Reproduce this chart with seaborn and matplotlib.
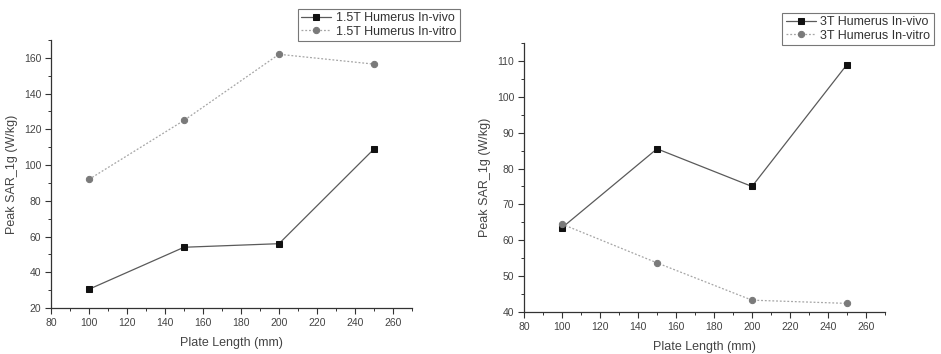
import matplotlib
matplotlib.use("Agg")
import matplotlib.pyplot as plt
import seaborn as sns
import pandas as pd
from matplotlib.ticker import MultipleLocator

sns.set_theme(style="white")
plt.rcParams['font.family'] = ['Liberation Sans', 'DejaVu Sans']

plate_length = [100, 150, 200, 250]
t15_invivo = [30.5, 54.0, 56.0, 109.0]
t15_invitro = [92.0, 125.0, 162.0, 156.5]
t3_invivo = [63.5, 85.5, 75.0, 109.0]
t3_invitro = [64.5, 53.7, 43.3, 42.4]

labels_left = ["1.5T Humerus In-vivo", "1.5T Humerus In-vitro"]
labels_right = ["3T Humerus In-vivo", "3T Humerus In-vitro"]

fig = plt.figure(figsize=(9.41, 3.54), dpi=100)
W, H = 941, 354
ax1 = fig.add_axes([51 / W, 1 - 308 / H, (412 - 51) / W, (308 - 40) / H])
ax2 = fig.add_axes([524 / W, 1 - 312 / H, (885 - 524) / W, (312 - 43) / H])


def draw(ax, vivo, vitro, labels, ylim, ymajor, legbox):
    df1 = pd.DataFrame({"x": plate_length, "y": vivo})
    df2 = pd.DataFrame({"x": plate_length, "y": vitro})
    sns.lineplot(data=df1, x="x", y="y", ax=ax, color="#5a5a5a", lw=0.9,
                 marker="s", markersize=4.5, markerfacecolor="#111111",
                 markeredgecolor="#111111", label=labels[0])
    sns.lineplot(data=df2, x="x", y="y", ax=ax, color="#a5a5a5", lw=0.9,
                 linestyle=(0, (1.5, 1.5)), marker="o", markersize=4.5,
                 markerfacecolor="#7a7a7a", markeredgecolor="#7a7a7a",
                 label=labels[1])
    ax.set_xlim(80, 270)
    ax.set_ylim(*ylim)
    ax.xaxis.set_major_locator(MultipleLocator(20))
    ax.xaxis.set_minor_locator(MultipleLocator(10))
    ax.yaxis.set_major_locator(MultipleLocator(ymajor))
    ax.yaxis.set_minor_locator(MultipleLocator(ymajor / 2))
    for s in ["top", "right"]:
        ax.spines[s].set_visible(False)
    for s in ["left", "bottom"]:
        ax.spines[s].set_color("#333333")
        ax.spines[s].set_linewidth(0.9)
    ax.tick_params(axis="both", which="major", direction="out", length=4,
                   width=0.8, color="#333333", labelsize=7.5,
                   labelcolor="#444444", left=True, bottom=True, pad=3)
    ax.tick_params(axis="both", which="minor", direction="out", length=2.5,
                   width=0.7, color="#333333", left=True, bottom=True)
    ax.set_xlabel("Plate Length (mm)", fontsize=9, color="#444444", labelpad=7)
    ax.set_ylabel("Peak SAR_1g (W/kg)", fontsize=9, color="#444444", labelpad=4)
    ax.grid(False)
    x0, y0, x1, y1 = legbox
    bbox = ((x0) / W, 1 - y1 / H, (x1 - x0) / W, (y1 - y0) / H)
    leg = ax.legend(loc="center", bbox_to_anchor=bbox,
                    bbox_transform=fig.transFigure, fontsize=9,
                    frameon=True, fancybox=False, borderpad=0.3,
                    labelspacing=0.1, handlelength=2.4, handletextpad=0.4,
                    borderaxespad=0)
    leg.get_frame().set_edgecolor("#555555")
    leg.get_frame().set_linewidth(0.8)
    for t in leg.get_texts():
        t.set_color("#333333")


draw(ax1, t15_invivo, t15_invitro, labels_left, (20, 170), 20, (294, 8, 464, 42))
draw(ax2, t3_invivo, t3_invitro, labels_right, (40, 115), 10, (778, 12, 938, 46))

fig.savefig("out.png", dpi=100)
